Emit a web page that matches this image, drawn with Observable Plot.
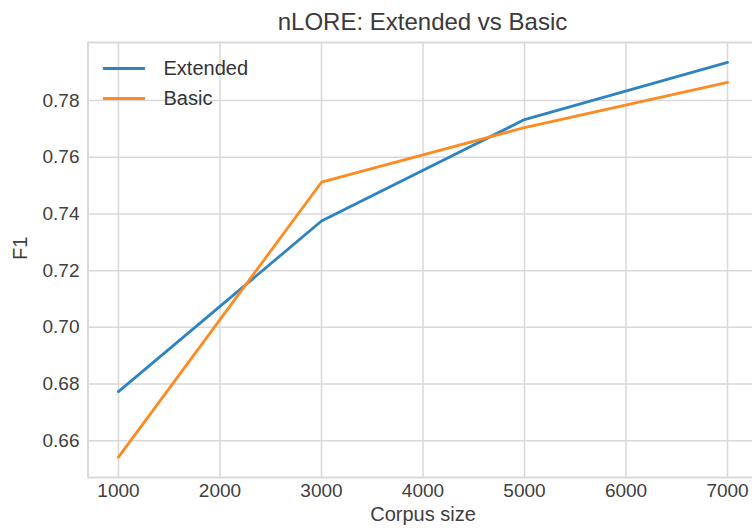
<!DOCTYPE html>
<html>
<head>
<meta charset="utf-8">
<script src="https://cdn.jsdelivr.net/npm/d3@7"></script>
<script src="https://cdn.jsdelivr.net/npm/@observablehq/plot@0.6"></script>
<style>
  html, body { margin: 0; padding: 0; background: #fff; }
  #wrap { position: relative; width: 752px; height: 530px; overflow: hidden; font-family: "Liberation Sans", Arial, sans-serif; }
  #title { position: absolute; left: 87.5px; width: 670px; top: 10px; line-height: 24px; text-align: center; font-size: 24px; color: #3a3a3a; white-space: nowrap; }
  #chart { position: absolute; left: 0; top: 0; }
</style>
</head>
<body>
<div id="wrap">
  <div id="chart"></div>
  <div id="title">nLORE: Extended vs Basic</div>
</div>
<script>
const corpusSizes = [1000, 3000, 5000, 7000];
const extendedF1 = [0.6773, 0.7375, 0.7733, 0.7935];
const basicF1 = [0.6542, 0.7512, 0.7705, 0.7864];
const seriesNames = ["Extended", "Basic"];
const seriesColors = ["#2f83c1", "#ff8a22"];
const xTicks = [1000, 2000, 3000, 4000, 5000, 6000, 7000];
const yTicks = [0.66, 0.68, 0.70, 0.72, 0.74, 0.76, 0.78];

const rows = [];
corpusSizes.forEach((c, i) => {
  rows.push({series: seriesNames[0], size: c, f1: extendedF1[i]});
  rows.push({series: seriesNames[1], size: c, f1: basicF1[i]});
});

const gridColor = "#d9d9d9";
const textColor = "#404040";
const font = "'Liberation Sans', Arial, sans-serif";
const xDom = [700, 7300];
const yDom = [0.647, 0.8005];

const plot = Plot.plot({
  width: 752,
  height: 530,
  marginLeft: 87.5,
  marginRight: 0,
  marginTop: 42,
  marginBottom: 53,
  style: {fontFamily: font, fontSize: "19px", color: textColor, background: "transparent", overflow: "hidden"},
  x: {domain: xDom, range: [87.5, 757.5], label: null},
  y: {domain: yDom, range: [477, 42], label: null},
  color: {domain: seriesNames, range: seriesColors},
  marks: [
    Plot.gridX(xTicks, {stroke: gridColor, strokeOpacity: 1, strokeWidth: 1.5}),
    Plot.gridY(yTicks, {stroke: gridColor, strokeOpacity: 1, strokeWidth: 1.5}),
    Plot.ruleX([xDom[0]], {y1: yDom[0], y2: yDom[1], stroke: gridColor, strokeWidth: 2}),
    Plot.ruleY(yDom, {x1: xDom[0], x2: xDom[1], stroke: gridColor, strokeWidth: 2}),
    Plot.axisX(xTicks, {tickSize: 0, tickPadding: 6, fontSize: 19, fill: textColor, label: null, tickFormat: d => String(d)}),
    Plot.axisY(yTicks, {tickSize: 0, tickPadding: 8.5, fontSize: 19, fill: textColor, label: null, tickFormat: d => d.toFixed(2)}),
    Plot.line(rows, {x: "size", y: "f1", z: "series", stroke: "series", strokeWidth: 2.8}),
    // axis titles
    Plot.text(["Corpus size"], {x: 4000, frameAnchor: "bottom", dy: 43, fontSize: 20, fill: textColor}),
    Plot.text(["F1"], {frameAnchor: "left", dx: -67, y: (yDom[0] + yDom[1]) / 2, rotate: -90, fontSize: 20, fill: textColor}),
    // legend
    Plot.ruleY(seriesNames, {
      y: (d, i) => [0.7913, 0.7807][i],
      x1: 853, x2: 1266,
      stroke: d => d, strokeWidth: 3
    }),
    Plot.text(seriesNames, {
      y: (d, i) => [0.7913, 0.7807][i],
      x: 1444, text: d => d, textAnchor: "start", fontSize: 20, fill: "#333"
    })
  ]
});
document.getElementById("chart").appendChild(plot);
</script>
</body>
</html>
